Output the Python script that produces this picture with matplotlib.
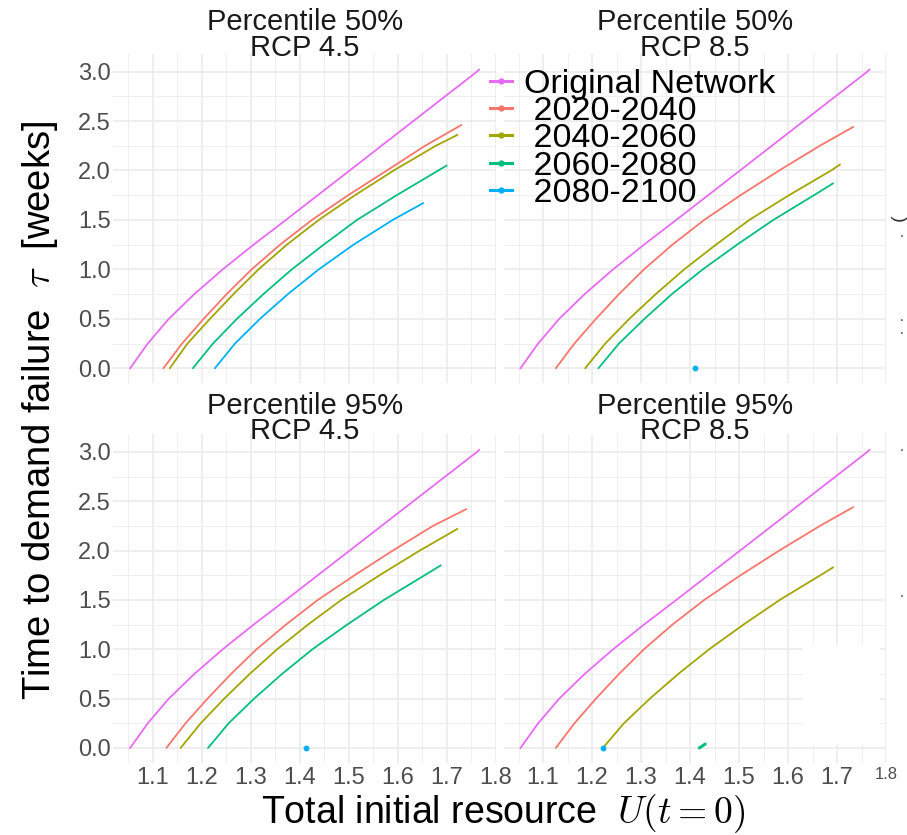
import matplotlib.pyplot as plt
from matplotlib.lines import Line2D
from matplotlib.patches import Rectangle

plt.rcParams['font.family'] = ['Liberation Sans', 'DejaVu Sans']
plt.rcParams['mathtext.fontset'] = 'cm'

periods = ['Original Network', '2020-2040', '2040-2060', '2060-2080', '2080-2100']
colors = ['#E76BF3', '#F8766D', '#A3A500', '#00BF7D', '#00B0F6']

# same baseline network in every panel
orig_u = [1.054, 1.090, 1.133, 1.185, 1.243, 1.306, 1.372, 1.437, 1.502,
          1.567, 1.632, 1.697, 1.762, 1.766]
orig_tau = [0.0, 0.25, 0.5, 0.75, 1.0, 1.25, 1.5, 1.75, 2.0,
            2.25, 2.5, 2.75, 3.0, 3.02]

# (U, tau) per climate period, one dict per panel
p50_rcp45 = {
    '2020-2040': ([1.122, 1.160, 1.204, 1.251, 1.302, 1.360, 1.425, 1.499, 1.578, 1.656, 1.730],
                  [0, 0.25, 0.5, 0.75, 1.0, 1.25, 1.5, 1.75, 2.0, 2.25, 2.46]),
    '2040-2060': ([1.135, 1.171, 1.217, 1.265, 1.316, 1.374, 1.439, 1.513, 1.592, 1.678, 1.722],
                  [0, 0.25, 0.5, 0.75, 1.0, 1.25, 1.5, 1.75, 2.0, 2.25, 2.36]),
    '2060-2080': ([1.182, 1.223, 1.272, 1.326, 1.384, 1.449, 1.517, 1.598, 1.683, 1.700],
                  [0, 0.25, 0.5, 0.75, 1.0, 1.25, 1.5, 1.75, 2.0, 2.05]),
    '2080-2100': ([1.227, 1.268, 1.319, 1.376, 1.439, 1.510, 1.590, 1.652],
                  [0, 0.25, 0.5, 0.75, 1.0, 1.25, 1.5, 1.67]),
}
p50_rcp85 = {
    '2020-2040': ([1.126, 1.164, 1.208, 1.255, 1.306, 1.364, 1.429, 1.503, 1.582, 1.665, 1.733],
                  [0, 0.25, 0.5, 0.75, 1.0, 1.25, 1.5, 1.75, 2.0, 2.25, 2.44]),
    '2040-2060': ([1.186, 1.227, 1.276, 1.330, 1.388, 1.453, 1.521, 1.602, 1.688, 1.706],
                  [0, 0.25, 0.5, 0.75, 1.0, 1.25, 1.5, 1.75, 2.0, 2.06]),
    '2060-2080': ([1.213, 1.255, 1.307, 1.363, 1.426, 1.496, 1.570, 1.653, 1.692],
                  [0, 0.25, 0.5, 0.75, 1.0, 1.25, 1.5, 1.75, 1.87]),
    '2080-2100': ([1.410], [0.0]),
}
p95_rcp45 = {
    '2020-2040': ([1.128, 1.167, 1.212, 1.260, 1.312, 1.372, 1.437, 1.512, 1.590, 1.672, 1.740],
                  [0, 0.25, 0.5, 0.75, 1.0, 1.25, 1.5, 1.75, 2.0, 2.25, 2.42]),
    '2040-2060': ([1.157, 1.198, 1.246, 1.298, 1.354, 1.417, 1.485, 1.563, 1.645, 1.722],
                  [0, 0.25, 0.5, 0.75, 1.0, 1.25, 1.5, 1.75, 2.0, 2.22]),
    '2060-2080': ([1.213, 1.255, 1.307, 1.364, 1.426, 1.497, 1.572, 1.655, 1.688],
                  [0, 0.25, 0.5, 0.75, 1.0, 1.25, 1.5, 1.75, 1.85]),
    '2080-2100': ([1.412], [0.0]),
}
p95_rcp85 = {
    '2020-2040': ([1.126, 1.164, 1.208, 1.255, 1.306, 1.364, 1.429, 1.503, 1.582, 1.665, 1.733],
                  [0, 0.25, 0.5, 0.75, 1.0, 1.25, 1.5, 1.75, 2.0, 2.25, 2.44]),
    '2040-2060': ([1.222, 1.265, 1.318, 1.376, 1.439, 1.509, 1.583, 1.666, 1.692],
                  [0, 0.25, 0.5, 0.75, 1.0, 1.25, 1.5, 1.75, 1.83]),
    '2060-2080': ([1.419, 1.431], [0.0, 0.04]),
    '2080-2100': ([1.222], [0.0]),
}

panels = [
    ('Percentile 50%\nRCP 4.5', p50_rcp45),
    ('Percentile 50%\nRCP 8.5', p50_rcp85),
    ('Percentile 95%\nRCP 4.5', p95_rcp45),
    ('Percentile 95%\nRCP 8.5', p95_rcp85),
]

x_major = [1.1, 1.2, 1.3, 1.4, 1.5, 1.6, 1.7, 1.8]
x_minor = [1.05, 1.15, 1.25, 1.35, 1.45, 1.55, 1.65, 1.75]
y_major = [0.0, 0.5, 1.0, 1.5, 2.0, 2.5, 3.0]
y_minor = [0.25, 0.75, 1.25, 1.75, 2.25, 2.75]

fig = plt.figure(figsize=(9.07, 8.35), dpi=100)
boxes = [
    [0.1251, 0.5412, 0.4214, 0.3944],
    [0.5555, 0.5412, 0.4214, 0.3944],
    [0.1251, 0.0865, 0.4214, 0.3936],
    [0.5555, 0.0865, 0.4214, 0.3936],
]

for i, ((title, data), box) in enumerate(zip(panels, boxes)):
    ax = fig.add_axes(box)
    ax.set_xlim(1.02, 1.80)
    ax.set_ylim(-0.15, 3.18)
    ax.set_xticks(x_major)
    ax.set_xticks(x_minor, minor=True)
    ax.set_yticks(y_major)
    ax.set_yticks(y_minor, minor=True)
    ax.grid(which='major', color='#EBEBEB', lw=1.2)
    ax.grid(which='minor', color='#EFEFEF', lw=0.7)
    ax.set_axisbelow(True)
    for s in ax.spines.values():
        s.set_visible(False)
    ax.tick_params(which='both', length=0, labelsize=17, labelcolor='#4D4D4D')
    ax.tick_params(axis='y', pad=2)
    ax.tick_params(axis='x', pad=3)

    if i >= 2:
        ax.set_xticklabels(['%.1f' % v for v in x_major])
    else:
        ax.set_xticklabels([])
    if i % 2 == 0:
        ax.set_yticklabels(['%.1f' % v for v in y_major])
    else:
        ax.set_yticklabels([])
    if i == 3:
        ax.get_xticklabels()[-1].set_fontsize(12)

    ax.plot(orig_u, orig_tau, color=colors[0], lw=1.3)
    for name, c in zip(periods[1:], colors[1:]):
        u, tau = data[name]
        if len(u) == 1:
            ax.plot(u, tau, color=c, marker='o', ms=3.2, lw=0)
        else:
            ax.plot(u, tau, color=c, lw=1.3 if len(u) > 2 else 2.2,
                    solid_capstyle='round', solid_joinstyle='round')

    # strip-style two-line title, sitting on the panel edge
    ax.set_title(title, fontsize=21, color='#1A1A1A', y=1.0,
                 pad=-1.4 if i < 2 else -3.6, linespacing=0.88)

handles = [Line2D([0], [0], color=c, lw=2.2, marker='o', ms=3.5) for c in colors]
labels = [periods[0]] + [' ' + p for p in periods[1:]]
fig.legend(handles, labels, loc='upper left', bbox_to_anchor=(0.540, 0.9175),
           frameon=False, fontsize=24.5, handlelength=0.65, handletextpad=0.35,
           labelspacing=-0.11, borderpad=0, borderaxespad=0)

# blank patch over the lower right grid
fig.add_artist(Rectangle((803 / 907, 1 - 745 / 835), 77 / 907, 100 / 835,
                         transform=fig.transFigure, facecolor='white',
                         edgecolor='none', zorder=5))

# clipped marks along the right edge
fig.text(899 / 907, 1 - 218 / 835, '(', rotation=90, ha='center', va='center',
         fontsize=14, color='#333333')
for yy in [233, 317, 330, 447, 593]:
    fig.text(902 / 907, 1 - yy / 835, '.', ha='center', va='center',
             fontsize=10, color='#333333')

fig.text(40 / 907, 1 - 410 / 835, 'Time to demand failure  $\\tau$  [weeks]',
         rotation=90, ha='center', va='center', fontsize=27.5)
fig.text(503 / 907, 1 - 814 / 835, 'Total initial resource  $U(t=0)$',
         ha='center', va='center', fontsize=27)

fig.savefig('out.png', dpi=100)
